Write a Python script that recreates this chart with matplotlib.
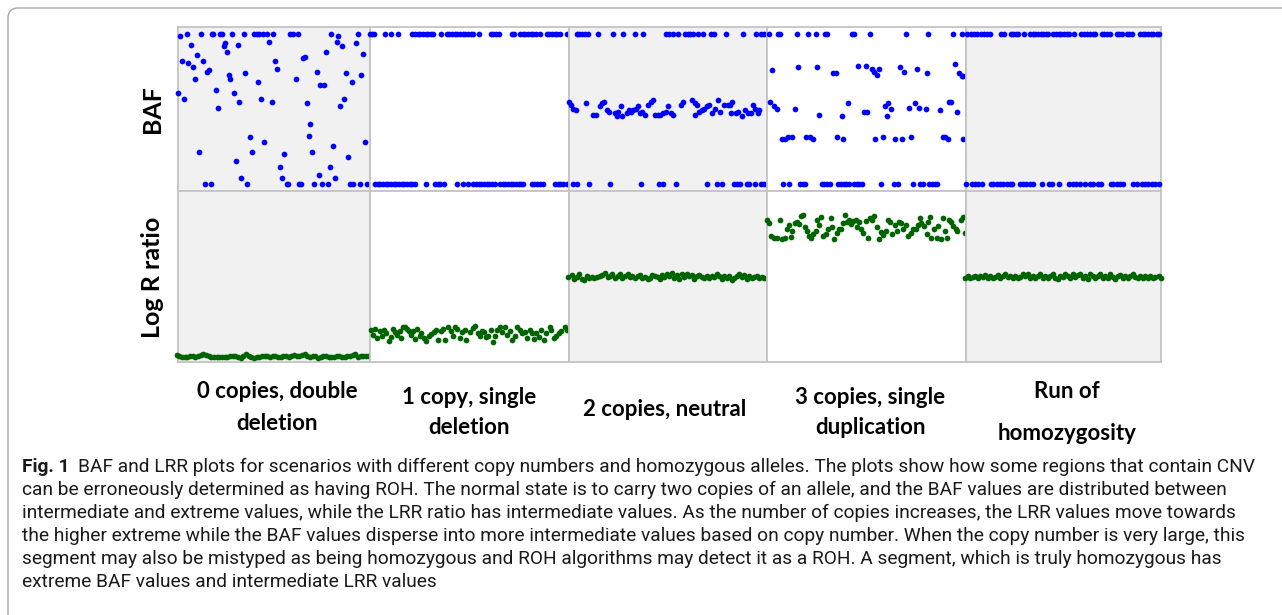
import matplotlib
matplotlib.use("Agg")
import matplotlib.pyplot as plt
from matplotlib.patches import FancyBboxPatch

# ---------------- DATA ----------------
scenarios = ["0 copies, double\ndeletion", "1 copy, single\ndeletion", "2 copies, neutral",
             "3 copies, single\nduplication", "Run of\nhomozygosity"]
row_labels = ["BAF", "Log R ratio"]
BAF_B = 1.0   # homozygous BB
BAF_A = 0.0   # homozygous AA

# BAF: SNP positions at BAF=1 and BAF=0, plus (position, BAF) intermediate points
p0_baf_top = [26, 69, 101, 106, 126, 131, 163, 198, 229, 236, 244, 256, 266, 286, 336, 344, 361, 460, 539]
p0_baf_bot = [81, 98, 208, 326, 331, 364, 370, 409, 432, 450, 516, 524, 546, 566]
p0_baf_mid = [(6, .99), (481, .99), (38, .93), (273, .95), (141, .94), (138, .92), (179, .93), (477, .95),
              (492, .92), (533, .94), (57, .86), (147, .88), (445, .88), (556, .87), (11, .82), (30, .81),
              (75, .82), (291, .82), (44, .78), (376, .84), (381, .85), (298, .77), (86, .75), (92, .76),
              (152, .73), (157, .70), (51, .70), (202, .74), (240, .68), (354, .70), (416, .75), (427, .66),
              (438, .66), (503, .74), (521, .68), (550, .73), (0, .61), (18, .57), (114, .63), (120, .51),
              (167, .61), (183, .55), (249, .57), (281, .55), (386, .54), (486, .52), (498, .57), (397, .40),
              (392, .32), (215, .31), (259, .28), (561, .28), (63, .21), (221, .21), (318, .20), (403, .21),
              (465, .25), (174, .15), (509, .18), (305, .11), (455, .11), (190, .04), (311, .04), (423, .06),
              (470, .04)]

p1_baf_top = [0, 6, 12, 45, 62, 83, 127, 135, 143, 151, 159, 167, 175, 183, 190, 213, 230, 238, 246, 254,
              262, 270, 278, 286, 294, 302, 310, 327, 362, 370, 378, 388, 425, 433, 450, 458, 466, 474, 482,
              490, 498, 510, 530, 538, 546, 554, 562, 570, 590]
p1_baf_bot = [15, 23, 31, 39, 47, 55, 63, 71, 79, 87, 95, 103, 111, 119, 127, 135, 167, 195, 203, 211, 222,
              260, 280, 293, 310, 318, 326, 334, 342, 350, 358, 366, 375, 390, 398, 406, 414, 422, 430, 438,
              446, 454, 460, 485, 493, 501, 509, 520, 555, 563, 571, 579, 590]
p1_baf_mid = []

p2_baf_top = [23, 31, 39, 47, 58, 86, 131, 163, 199, 223, 291, 299, 313, 328, 348, 356, 364, 372, 388, 403,
              425, 435, 471, 523, 560, 576, 585]
p2_baf_bot = [13, 23, 61, 124, 216, 270, 283, 322, 413, 445, 458, 496, 504, 512, 533, 541, 558, 576, 585]
p2_baf_mid = [(0, .55), (6, .53), (13, .50), (20, .49), (50, .54), (73, .46), (80, .46), (93, .52), (100, .54),
              (106, .55), (113, .49), (120, .48), (138, .47), (143, .45), (148, .48), (156, .52), (160, .45),
              (173, .47), (180, .49), (186, .48), (193, .49), (200, .50), (206, .52), (213, .47), (220, .48),
              (228, .46), (238, .53), (246, .55), (253, .56), (258, .46), (266, .46), (273, .46), (283, .47),
              (291, .48), (298, .52), (306, .47), (313, .46), (336, .53), (343, .55), (370, .56), (378, .54),
              (385, .53), (378, .46), (390, .48), (398, .49), (406, .50), (413, .52), (420, .53), (428, .47),
              (438, .50), (446, .56), (453, .48), (466, .53), (476, .53), (483, .53), (490, .55), (486, .47),
              (500, .47), (508, .48), (518, .45), (528, .49), (536, .47), (546, .47), (553, .53), (558, .50),
              (566, .47), (570, .49)]

p3_baf_top = [7, 34, 39, 89, 124, 147, 174, 179, 254, 261, 309, 417, 484, 559, 584]
p3_baf_bot = [47, 67, 99, 107, 115, 164, 172, 180, 189, 214, 222, 230, 238, 246, 261, 269, 277, 285, 342,
              382, 392, 437, 459, 469, 487, 495, 503, 511]
p3_baf_mid = [(15, .76), (94, .78), (151, .78), (199, .74), (206, .74), (274, .79), (297, .79), (314, .77),
              (321, .75), (329, .73), (336, .77), (399, .78), (411, .75), (451, .77), (481, .74), (564, .80),
              (577, .74), (584, .72), (589, .72),
              (9, .55), (21, .52), (29, .50), (84, .50), (157, .46), (224, .45), (243, .54), (292, .48),
              (301, .48), (354, .52), (364, .54), (372, .50), (360, .45), (425, .51), (444, .54), (457, .51),
              (476, .50), (519, .49), (547, .55), (552, .55), (571, .48),
              (44, .30), (54, .30), (64, .31), (76, .31), (117, .31), (129, .31), (139, .30), (211, .31),
              (229, .30), (325, .30), (347, .31), (384, .30), (404, .30), (431, .31), (527, .31), (534, .31),
              (544, .30), (588, .30)]

p4_baf_top = [4, 14, 24, 34, 44, 54, 64, 72, 104, 114, 134, 142, 150, 157, 174, 192, 200, 208, 216, 224,
              232, 240, 247, 262, 270, 278, 286, 294, 302, 310, 324, 346, 354, 362, 372, 380, 388, 407, 415,
              423, 431, 452, 460, 468, 482, 490, 498, 522, 530, 538, 546, 554, 562, 572, 579]
p4_baf_bot = [0, 17, 27, 37, 47, 74, 82, 92, 102, 112, 122, 132, 137, 162, 170, 180, 192, 200, 227, 250, 257,
              280, 310, 320, 330, 342, 357, 372, 382, 397, 404, 434, 442, 452, 462, 472, 502, 512, 527, 537,
              547, 557, 567, 579]
p4_baf_mid = []

# LRR: (position, log R ratio)
p0_lrr = [(-4, -1.380), (4, -1.397), (12, -1.409), (20, -1.421), (28, -1.415), (36, -1.391), (44, -1.403),
          (52, -1.409), (60, -1.386), (68, -1.374), (76, -1.368), (84, -1.374), (92, -1.386), (100, -1.409),
          (108, -1.421), (116, -1.415), (124, -1.415), (132, -1.409), (140, -1.415), (148, -1.409),
          (156, -1.397), (164, -1.386), (172, -1.397), (180, -1.409), (188, -1.427), (196, -1.397),
          (204, -1.368), (212, -1.386), (220, -1.409), (228, -1.427), (236, -1.415), (244, -1.409),
          (252, -1.391), (260, -1.386), (268, -1.403), (276, -1.409), (284, -1.397), (292, -1.403),
          (300, -1.421), (308, -1.409), (316, -1.386), (324, -1.397), (332, -1.409), (340, -1.391),
          (348, -1.374), (356, -1.391), (364, -1.397), (372, -1.380), (380, -1.368), (388, -1.397),
          (396, -1.415), (404, -1.403), (412, -1.386), (420, -1.427), (428, -1.415), (436, -1.397),
          (444, -1.403), (452, -1.415), (460, -1.409), (468, -1.409), (476, -1.397), (484, -1.403),
          (492, -1.415), (500, -1.421), (508, -1.397), (516, -1.386), (524, -1.374), (532, -1.368),
          (540, -1.421), (548, -1.397), (556, -1.386), (564, -1.391), (572, -1.397), (580, -1.368)]

p1_lrr = [(2, -.94), (9, -1.02), (16, -.92), (22, -1.08), (29, -.96), (36, -1.04), (42, -.94), (49, -.99),
          (56, -1.14), (62, -1.07), (69, -.92), (76, -.98), (82, -1.02), (89, -.95), (94, -1.08), (99, -.89),
          (106, -.88), (112, -.92), (116, -.96), (122, -1.02), (129, -.95), (136, -1.09), (142, -.92),
          (149, -1.04), (154, -.99), (162, -1.08), (169, -1.13), (176, -1.05), (184, -1.01), (192, -.98),
          (199, -.94), (204, -1.11), (212, -.95), (219, -.92), (226, -1.11), (234, -.88), (242, -.95),
          (249, -1.04), (256, -.88), (262, -.92), (269, -1.08), (276, -.98), (284, -.94), (289, -1.11),
          (299, -.98), (309, -.91), (316, -.86), (324, -.99), (329, -1.04), (336, -.95), (342, -.98),
          (349, -1.07), (354, -1.04), (362, -.94), (369, -1.15), (374, -1.04), (382, -.94), (389, -.89),
          (396, -.98), (404, -.88), (412, -1.02), (419, -.95), (426, -1.11), (434, -1.04), (442, -.88),
          (449, -.94), (456, -.99), (464, -.98), (472, -1.08), (479, -.94), (486, -.99), (492, -1.09),
          (499, -.99), (506, -1.07), (514, -.94), (522, -1.11), (529, -.99), (539, -.89), (544, -.94),
          (552, -1.08), (559, -1.04), (566, -.99), (574, -.95), (584, -.88), (592, -.94)]

p2_lrr = [(-2, -.011), (8, .018), (16, -.040), (23, -.011), (30, .047), (38, -.040), (46, -.058), (53, .001),
          (60, -.023), (68, -.011), (76, -.034), (83, -.011), (93, .001), (100, .018), (108, .059),
          (116, -.011), (123, .001), (130, .036), (138, -.023), (146, .012), (153, .047), (160, -.023),
          (168, .001), (176, .047), (183, -.011), (190, .012), (198, -.034), (206, .001), (213, .024),
          (220, -.023), (228, -.011), (236, -.046), (243, -.023), (250, .018), (258, .001), (266, -.011),
          (273, -.040), (280, .018), (286, -.011), (293, .047), (300, .001), (308, .059), (316, -.023),
          (323, .018), (330, -.040), (338, .036), (346, -.011), (353, .047), (360, .001), (368, .018),
          (376, -.040), (383, .001), (390, .018), (398, -.011), (406, -.023), (413, .001), (420, -.034),
          (428, .012), (436, -.011), (443, .047), (450, .001), (458, -.040), (466, .012), (473, -.023),
          (480, .001), (488, -.058), (496, -.023), (503, .001), (510, .047), (518, -.011), (526, .018),
          (533, -.040), (540, .001), (548, -.023), (556, -.011), (563, .012), (570, -.034), (578, -.011),
          (586, -.023)]

p3_lrr = [(0, 1.00), (6, .94), (13, .71), (21, .68), (31, .67), (39, .99), (46, .65), (53, .68), (61, .83),
          (66, .90), (71, .70), (76, .80), (83, .94), (91, .96), (96, .92), (103, 1.06), (109, 1.08),
          (113, .86), (119, .80), (126, .71), (131, .67), (139, .75), (146, .80), (151, 1.00), (156, .90),
          (161, 1.05), (169, .71), (176, .74), (183, .83), (191, 1.02), (196, .86), (201, .65), (209, .77),
          (216, .84), (221, .83), (229, .94), (233, 1.08), (239, .96), (246, 1.00), (253, .92), (259, .98),
          (266, .99), (271, .87), (276, .96), (281, .84), (289, .77), (296, .98), (303, .68), (309, 1.02),
          (316, 1.00), (321, 1.06), (329, .86), (336, .65), (341, .78), (349, .73), (356, .80), (363, 1.00),
          (369, .96), (376, .75), (383, .90), (389, .80), (396, .96), (403, .93), (409, .83), (416, .90),
          (423, .71), (431, .77), (439, .83), (446, .84), (453, .90), (459, 1.02), (463, .94), (471, .88),
          (479, .74), (483, .96), (489, 1.05), (493, .67), (501, .83), (509, .68), (513, .88), (521, .65),
          (529, 1.02), (533, .80), (541, .68), (546, 1.00), (553, .96), (559, .88), (566, .84), (571, .80),
          (581, .99), (589, 1.04), (593, .77)]

p4_lrr = [(-2, -.023), (6, .001), (13, -.034), (20, -.011), (28, .012), (36, -.023), (43, .001), (50, -.011),
          (58, .024), (66, -.023), (73, .001), (80, -.034), (88, -.011), (96, .024), (103, -.023), (110, .001),
          (118, .036), (126, -.011), (133, .012), (140, -.023), (148, .001), (156, -.034), (163, -.011),
          (170, .036), (178, .001), (186, .047), (193, -.023), (200, .012), (208, -.034), (216, .001),
          (223, .036), (230, -.023), (238, .012), (246, -.034), (253, .001), (260, .047), (268, -.023),
          (276, -.046), (283, .012), (290, -.011), (298, .036), (306, .001), (313, -.034), (320, .047),
          (328, -.011), (336, .018), (343, .047), (350, -.023), (358, .001), (366, -.046), (373, .047),
          (380, .012), (388, -.034), (396, .001), (403, .047), (410, -.023), (418, .012), (426, -.034),
          (433, .036), (440, -.011), (448, -.046), (456, .001), (463, .024), (470, -.023), (478, .001),
          (486, -.034), (493, .012), (500, .047), (508, -.011), (516, -.034), (523, .012), (530, -.023),
          (538, .001), (546, -.034), (553, .012), (560, -.023), (568, -.011), (578, .001), (586, -.034)]

baf_panels = [(p0_baf_top, p0_baf_bot, p0_baf_mid), (p1_baf_top, p1_baf_bot, p1_baf_mid),
              (p2_baf_top, p2_baf_bot, p2_baf_mid), (p3_baf_top, p3_baf_bot, p3_baf_mid),
              (p4_baf_top, p4_baf_bot, p4_baf_mid)]
lrr_panels = [p0_lrr, p1_lrr, p2_lrr, p3_lrr, p4_lrr]

caption_lead = "Fig. 1"
caption_lines = [
    "BAF and LRR plots for scenarios with different copy numbers and homozygous alleles. The plots show how some regions that contain CNV",
    "can be erroneously determined as having ROH. The normal state is to carry two copies of an allele, and the BAF values are distributed between",
    "intermediate and extreme values, while the LRR ratio has intermediate values. As the number of copies increases, the LRR values move towards",
    "the higher extreme while the BAF values disperse into more intermediate values based on copy number. When the copy number is very large, this",
    "segment may also be mistyped as being homozygous and ROH algorithms may detect it as a ROH. A segment, which is truly homozygous has",
    "extreme BAF values and intermediate LRR values",
]

# ---------------- LAYOUT / STYLE ----------------
W, H = 1282, 615
fig = plt.figure(figsize=(W / 100, H / 100), dpi=100)
fig.patch.set_facecolor("white")

def fx(px):
    return px / W

def fy(py):
    return 1 - py / H

# outer rounded frame
frame = FancyBboxPatch((0.08, -0.3), 13.2, 6.07 + 0.3, boxstyle="round,pad=0,rounding_size=0.1",
                       transform=fig.dpi_scale_trans, facecolor="none", edgecolor="#a8a8a8", linewidth=1.0)
fig.patches.append(frame)

left_px = 178
row_px = [(27, 191), (191, 362)]
col_w = [192, 199, 198, 199, 195]
bg = ["#f1f1f1", "white", "#f1f1f1", "white", "#f1f1f1"]
blue = "#0000ff"
green = "#006400"
dot = 17

x0 = left_px
for i in range(5):
    w = col_w[i]
    for r, (t, b) in enumerate(row_px):
        ax = fig.add_axes([fx(x0), fy(b), fx(w), (b - t) / H])
        ax.set_facecolor(bg[i])
        ax.set_xlim(0, 3 * w)
        if r == 0:
            ax.set_ylim(-0.049, 1.049)
            top, bot, mid = baf_panels[i]
            ax.scatter(top, [BAF_B] * len(top), s=dot, c=blue, linewidths=0, clip_on=False, zorder=3)
            ax.scatter(bot, [BAF_A] * len(bot), s=dot, c=blue, linewidths=0, clip_on=False, zorder=3)
            if mid:
                ax.scatter([p for p, v in mid], [v for p, v in mid], s=dot, c=blue, linewidths=0,
                           clip_on=False, zorder=3)
        else:
            ax.set_ylim(-1.5, 1.5)
            pts = lrr_panels[i]
            ax.scatter([p for p, v in pts], [v for p, v in pts], s=dot, c=green, linewidths=0,
                       clip_on=False, zorder=3)
        ax.set_xticks([])
        ax.set_yticks([])
        for sp in ax.spines.values():
            sp.set_color("#c4c4c4")
            sp.set_linewidth(1.3)
    x0 += w

# row labels
lab_font = dict(family=["Lato", "DejaVu Sans"], weight="bold", color="black")
fig.text(fx(152), fy(109), row_labels[0], rotation=90, ha="center", va="center", fontsize=18, **lab_font)
fig.text(fx(152), fy(277), row_labels[1], rotation=90, ha="center", va="center", fontsize=18, **lab_font)

# scenario labels (line centres)
label_pos = [(277, [392, 423]), (469, [397, 428]), (665, [410]), (870, [397, 428]), (1067, [392, 433])]
for text, (cx, ys) in zip(scenarios, label_pos):
    for line, yy in zip(text.split("\n"), ys):
        fig.text(fx(cx), fy(yy), line, ha="center", va="center", fontsize=16, **lab_font)

# caption: fit the first line to the reference width (x 22 .. 1249 px)
cap_family = ["Roboto", "DejaVu Sans"]
line_y = [467, 490, 513, 536, 559, 582]
renderer = fig.canvas.get_renderer()
base = 12.0
lead = fig.text(fx(22), fy(line_y[0]), caption_lead, ha="left", va="center", weight="bold",
                family=cap_family, fontsize=base, color="#1a1a1a")
rest = fig.text(0, fy(line_y[0]), caption_lines[0], ha="left", va="center",
                family=cap_family, fontsize=base, color="#1a1a1a")
wl = lead.get_window_extent(renderer).width
wr = rest.get_window_extent(renderer).width
size = base * (1249 - 22 - 9) / (wl + wr)
lead.set_fontsize(size)
rest.set_fontsize(size)
bb = lead.get_window_extent(renderer)
rest.set_x(fx(bb.x1 + 9))
for line, yy in zip(caption_lines[1:], line_y[1:]):
    fig.text(fx(22), fy(yy), line, ha="left", va="center", family=cap_family, fontsize=size, color="#1a1a1a")

fig.savefig("out.png", dpi=100, facecolor="white")
